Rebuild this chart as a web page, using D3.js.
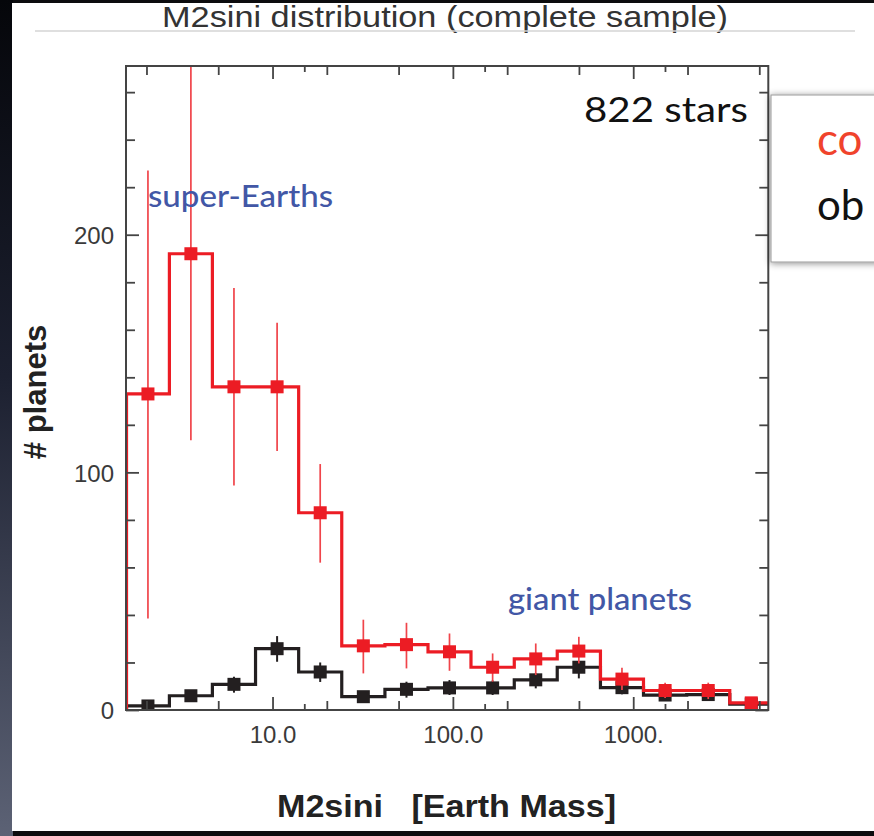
<!DOCTYPE html>
<html>
<head>
<meta charset="utf-8">
<script src="https://cdn.jsdelivr.net/npm/d3@7"></script>
<style>
  html, body { margin: 0; padding: 0; background: #000; }
  svg { display: block; }
  text { white-space: pre; }
</style>
</head>
<body>
<svg id="chart" width="874" height="836"></svg>
<script>
// Histogram bin edges in M2 sin i (Earth masses), log-spaced
const massEdges = [1.55, 2.68, 4.64, 8.05, 13.96, 24.2, 42.0, 72.8, 126, 219, 379, 658, 1140, 1980, 3430, 5940];

// Completeness-corrected counts (red) with error-bar bounds
const correctedCounts = [133, 192, 136, 136, 83, 27, 27.5, 24.5, 18, 21.5, 24.8, 13, 8.2, 8.2, 3];
const correctedLow    = [38.5, 113.5, 94.5, 109, 62, 15.4, 17.5, 16.5, 11.9, 14.7, 19.6, 8.4, 5, 4.6, 1.5];
const correctedHigh   = [227, 290, 177.6, 163, 103.5, 38, 36.7, 32.2, 23.8, 28, 30.8, 17.8, 11.5, 11.5, 4.5];

// Observed counts (black) with error-bar bounds
const observedCounts = [1.7, 6, 10.8, 25.8, 16, 5.6, 8.7, 9.3, 9.3, 12.7, 18, 9.4, 6.3, 6.5, 2.5];
const observedLow    = [0.5, 4, 7.3, 20.3, 11.8, 3.5, 5.2, 6.3, 6.3, 9.1, 13.3, 6.6, 4, 4.3, 1];
const observedHigh   = [3, 8.2, 14, 31.1, 20, 7.8, 11.9, 12.6, 12.4, 15.4, 20.3, 12.4, 8.6, 8.7, 4];

// Axis ticks
const xMajorTicks = [10, 100, 1000];
const xMajorLabels = ["10.0", "100.0", "1000."];
const xMidTicks = [2, 5, 20, 50, 200, 500, 2000, 5000];
const xSmallTicks = [15, 150, 1500];
const yMajorTicks = [0, 100, 200];
const yMinorTicks = [20, 40, 60, 80, 120, 140, 160, 180, 220, 240, 260];

const svg = d3.select("#chart");
const W = 874, H = 836;

// ---------- slide backdrop ----------
const defs = svg.append("defs");
const edgeGrad = defs.append("linearGradient").attr("id", "edgeGrad")
  .attr("x1", 0).attr("y1", 0).attr("x2", 0).attr("y2", 1);
edgeGrad.append("stop").attr("offset", "0%").attr("stop-color", "#05060a");
edgeGrad.append("stop").attr("offset", "45%").attr("stop-color", "#1c2030");
edgeGrad.append("stop").attr("offset", "100%").attr("stop-color", "#5c6275");

svg.append("rect").attr("x", 0).attr("y", 0).attr("width", W).attr("height", H).attr("fill", "#0c0c0e");
svg.append("rect").attr("x", 0).attr("y", 0).attr("width", 13).attr("height", H).attr("fill", "url(#edgeGrad)");
svg.append("rect").attr("x", 12).attr("y", 3).attr("width", W - 12).attr("height", 828).attr("fill", "#ffffff");

// title and rule
svg.append("text")
  .attr("x", 162).attr("y", 27)
  .attr("textLength", 566).attr("lengthAdjust", "spacingAndGlyphs")
  .attr("font-family", "Liberation Sans, Arial, sans-serif")
  .attr("font-size", 29).attr("fill", "#333")
  .text("M2sini distribution (complete sample)");
svg.append("line").attr("x1", 35).attr("x2", 855).attr("y1", 31).attr("y2", 31)
  .attr("stroke", "#d4d4d4").attr("stroke-width", 1.5);

// ---------- scales ----------
const x = d3.scaleLog().domain([1.54, 5610]).range([126, 768.3]);
const y = d3.scaleLinear().domain([0, 271]).range([710, 66]);

const plotL = x.range()[0], plotR = x.range()[1];
const plotT = y.range()[1], plotB = y.range()[0];

defs.append("clipPath").attr("id", "plotClip")
  .append("rect").attr("x", plotL).attr("y", plotT)
  .attr("width", plotR - plotL).attr("height", plotB - plotT);

const plot = svg.append("g").attr("clip-path", "url(#plotClip)");

const bins = massEdges.slice(0, -1).map((e, i) => ({
  lo: e, hi: massEdges[i + 1], mid: Math.sqrt(e * massEdges[i + 1]), i
}));

function stepPoints(values) {
  const pts = [[massEdges[0], 0]];
  values.forEach((v, i) => pts.push([massEdges[i], v]));
  pts.push([massEdges[massEdges.length - 1], values[values.length - 1]]);
  return pts;
}
const stepLine = d3.line().x(d => x(d[0])).y(d => y(d[1])).curve(d3.curveStepAfter);

function drawSeries(counts, low, high, color, barColor, barWidth) {
  const g = plot.append("g");
  g.append("path").datum(stepPoints(counts))
    .attr("d", stepLine).attr("fill", "none")
    .attr("stroke", color).attr("stroke-width", 3.2).attr("stroke-linejoin", "miter");
  g.selectAll("line.err").data(bins).join("line")
    .attr("class", "err")
    .attr("x1", d => x(d.mid)).attr("x2", d => x(d.mid))
    .attr("y1", d => y(low[d.i])).attr("y2", d => y(high[d.i]))
    .attr("stroke", barColor).attr("stroke-width", barWidth);
  g.selectAll("rect.pt").data(bins).join("rect")
    .attr("class", "pt")
    .attr("x", d => x(d.mid) - 6.5).attr("y", d => y(counts[d.i]) - 6.5)
    .attr("width", 13).attr("height", 13)
    .attr("fill", color);
}

drawSeries(observedCounts, observedLow, observedHigh, "#231f20", "#231f20", 2);
drawSeries(correctedCounts, correctedLow, correctedHigh, "#ec1c24", "#f0444a", 1.7);

// ---------- axes (ticks point inward on all four sides) ----------
const axisColor = "#444";
function styleAxis(g) {
  g.select(".domain").remove();
  g.selectAll(".tick line").attr("stroke", axisColor).attr("stroke-width", 1.8);
  g.selectAll("text").attr("font-family", "Liberation Sans, Arial, sans-serif")
    .attr("font-size", 24).attr("fill", "#3a3a3a");
}

// left
svg.append("g").attr("transform", `translate(${plotL},0)`)
  .call(d3.axisLeft(y).tickValues(yMajorTicks).tickSize(-13).tickPadding(12).tickFormat(d3.format("d")))
  .call(styleAxis)
  .call(g => g.selectAll("text").attr("dy", "0.36em"));
svg.append("g").attr("transform", `translate(${plotL},0)`)
  .call(d3.axisLeft(y).tickValues(yMinorTicks).tickSize(-9).tickFormat(""))
  .call(styleAxis);
// right
svg.append("g").attr("transform", `translate(${plotR},0)`)
  .call(d3.axisRight(y).tickValues(yMajorTicks).tickSize(-13).tickFormat(""))
  .call(styleAxis);
svg.append("g").attr("transform", `translate(${plotR},0)`)
  .call(d3.axisRight(y).tickValues(yMinorTicks).tickSize(-9).tickFormat(""))
  .call(styleAxis);

// bottom
svg.append("g").attr("transform", `translate(0,${plotB})`)
  .call(d3.axisBottom(x).tickValues(xMajorTicks).tickSize(-13).tickPadding(16)
    .tickFormat((d, i) => xMajorLabels[i]))
  .call(styleAxis);
svg.append("g").attr("transform", `translate(0,${plotB})`)
  .call(d3.axisBottom(x).tickValues(xMidTicks).tickSize(-9).tickFormat(""))
  .call(styleAxis);
svg.append("g").attr("transform", `translate(0,${plotB})`)
  .call(d3.axisBottom(x).tickValues(xSmallTicks).tickSize(-6).tickFormat(""))
  .call(styleAxis);
// top
svg.append("g").attr("transform", `translate(0,${plotT})`)
  .call(d3.axisTop(x).tickValues(xMajorTicks).tickSize(-13).tickFormat(""))
  .call(styleAxis);
svg.append("g").attr("transform", `translate(0,${plotT})`)
  .call(d3.axisTop(x).tickValues(xMidTicks).tickSize(-9).tickFormat(""))
  .call(styleAxis);
svg.append("g").attr("transform", `translate(0,${plotT})`)
  .call(d3.axisTop(x).tickValues(xSmallTicks).tickSize(-6).tickFormat(""))
  .call(styleAxis);

// frame
svg.append("rect").attr("x", plotL).attr("y", plotT)
  .attr("width", plotR - plotL).attr("height", plotB - plotT)
  .attr("fill", "none").attr("stroke", axisColor).attr("stroke-width", 2);

// axis titles
svg.append("text")
  .attr("x", 277).attr("y", 817)
  .attr("textLength", 339).attr("lengthAdjust", "spacingAndGlyphs")
  .attr("font-family", "Liberation Sans, Arial, sans-serif")
  .attr("font-weight", "bold").attr("font-size", 32).attr("fill", "#222")
  .text("M2sini   [Earth Mass]");
svg.append("text")
  .attr("transform", "translate(46,392) rotate(-90)")
  .attr("text-anchor", "middle")
  .attr("font-family", "Liberation Sans, Arial, sans-serif")
  .attr("font-weight", "bold").attr("font-size", 31).attr("fill", "#222")
  .text("# planets");

// annotations
svg.append("text").attr("x", 148).attr("y", 207)
  .attr("textLength", 185).attr("lengthAdjust", "spacingAndGlyphs")
  .attr("font-family", "Lato, Open Sans, sans-serif").attr("font-size", 30)
  .attr("font-weight", 500)
  .attr("fill", "#4257a6").text("super-Earths");
svg.append("text").attr("x", 508).attr("y", 610)
  .attr("textLength", 184).attr("lengthAdjust", "spacingAndGlyphs")
  .attr("font-family", "Lato, Open Sans, sans-serif").attr("font-size", 30)
  .attr("font-weight", 500)
  .attr("fill", "#4257a6").text("giant planets");
svg.append("text").attr("x", 584).attr("y", 122)
  .attr("textLength", 164).attr("lengthAdjust", "spacingAndGlyphs")
  .attr("font-family", "Lato, Open Sans, sans-serif").attr("font-size", 34)
  .attr("fill", "#111").text("822 stars");

// legend card running off the right edge of the slide
const shadow = defs.append("filter").attr("id", "cardShadow")
  .attr("x", "-20%").attr("y", "-20%").attr("width", "140%").attr("height", "140%");
shadow.append("feDropShadow").attr("dx", 0).attr("dy", 1).attr("stdDeviation", 3.5)
  .attr("flood-color", "#000").attr("flood-opacity", 0.45);
svg.append("rect").attr("x", 771).attr("y", 95).attr("width", 140).attr("height", 167)
  .attr("fill", "#fff").attr("stroke", "#9a9a9a").attr("stroke-width", 1)
  .attr("filter", "url(#cardShadow)");
svg.append("text").attr("x", 817).attr("y", 155)
  .attr("font-family", "Lato, Open Sans, sans-serif").attr("font-size", 44)
  .attr("fill", "#f0432c").text("co");
svg.append("text").attr("x", 817).attr("y", 220)
  .attr("font-family", "Lato, Open Sans, sans-serif").attr("font-size", 42)
  .attr("fill", "#111").text("ob");
</script>
</body>
</html>
